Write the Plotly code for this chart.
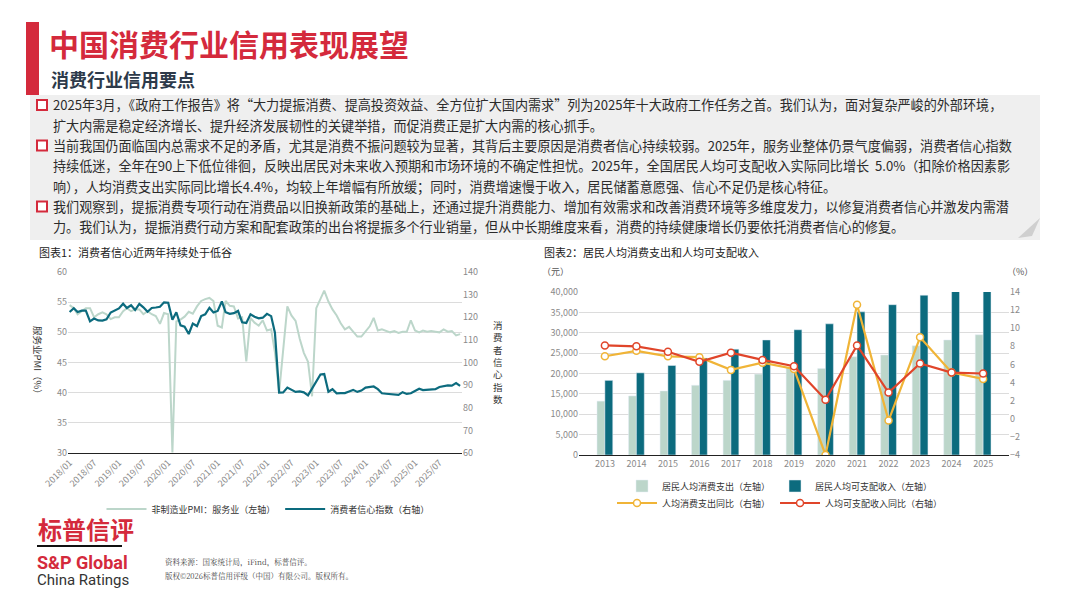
import plotly.graph_objects as go
import pandas as pd

# 图表1 数据（月度，2018/01 起）
pmi_services = [
    54.5, 54.0, 53.0, 53.5, 54.0, 54.0, 52.5, 53.0, 53.3, 53.0, 52.2, 52.5,
    52.5, 53.5, 54.0, 53.5, 53.8, 53.8, 53.0, 53.5, 53.0, 52.7, 51.4, 53.2,
    53.0, 30.1, 51.8, 52.1, 52.6, 53.4, 53.1, 54.3, 55.2, 55.5, 55.7, 55.2,
    51.1, 50.8, 55.2, 54.4, 54.3, 52.3, 52.5, 45.2, 52.4, 51.6, 51.1, 52.0,
    50.3, 50.5, 46.7, 40.0, 47.1, 54.3, 52.8, 51.9, 48.9, 46.6, 45.1, 39.4,
    54.0, 55.6, 56.9, 55.1, 53.8, 52.8, 51.5, 50.5, 50.9, 50.1, 49.3, 49.3,
    50.1, 51.0, 52.4, 50.3, 50.5, 50.2, 50.0, 50.2, 49.9, 50.1, 50.1, 52.0,
    50.3, 50.0, 50.3, 50.1, 50.2, 50.1, 50.0, 50.5, 50.1, 50.2, 49.5, 49.7,
]
consumer_confidence = [
    122.3, 124.0, 122.3, 122.9, 122.9, 118.2, 119.4, 118.6, 118.5, 119.1, 122.1, 123.0,
    123.9, 126.0, 124.1, 125.3, 123.2, 125.9, 124.4, 122.4, 124.1, 124.3, 124.6, 126.6,
    126.4, 118.9, 122.2, 116.4, 115.8, 112.6, 117.2, 116.1, 120.5, 121.3, 124.2, 122.1,
    122.8, 127.0, 122.2, 121.5, 121.8, 122.8, 117.8, 117.5, 121.3, 120.2, 119.5, 119.8,
    121.5, 120.5, 113.2, 86.7, 86.8, 88.9, 87.9, 87.0, 87.2, 86.8, 85.5, 88.3,
    91.2, 94.7, 94.9, 87.1, 88.2, 86.4, 86.5, 86.5, 87.2, 87.9, 87.0, 87.6,
    88.9, 89.1, 89.4, 88.2, 86.4, 86.2, 86.0, 85.8, 85.7, 86.9, 86.1, 86.4,
    87.5, 88.4, 87.8, 88.0, 88.3, 88.2, 89.2, 89.5, 89.9, 89.8, 90.9, 89.7,
]
months = pd.date_range("2018-01-01", periods=len(pmi_services), freq="MS")

# 图表2 数据（年度）
years = ["2013", "2014", "2015", "2016", "2017", "2018", "2019",
         "2020", "2021", "2022", "2023", "2024", "2025"]
expenditure = [13220, 14491, 15712, 17111, 18322, 19853, 21559,
               21210, 24100, 24538, 26796, 28227, 29500]
income = [18311, 20167, 21966, 23821, 25974, 28228, 30733,
          32189, 35128, 36883, 39218, 41314, 43377]
expenditure_yoy = [6.9, 7.5, 6.9, 6.8, 5.4, 6.2, 5.5, -4.0, 12.6, -0.2, 9.0, 5.1, 4.4]
income_yoy = [8.1, 8.0, 7.4, 6.3, 7.3, 6.5, 5.8, 2.1, 8.1, 2.9, 6.1, 5.1, 5.0]

W, H = 1067, 600
OFF = 8  # 页面 body 的默认边距
RED = "#d42a3c"
TEAL = "#0c6b7e"
SAGE = "#bcd6ca"
FONT = "Noto Sans CJK SC"


def px(x):
    return (x - OFF) / W


def py(y):
    return 1 - (y - OFF) / H


fig = go.Figure()

# 左图
fig.add_trace(go.Scatter(x=months, y=pmi_services, mode="lines", name="非制造业PMI：服务业（左轴）",
                         line=dict(color=SAGE, width=2), xaxis="x", yaxis="y", legend="legend"))
fig.add_trace(go.Scatter(x=months, y=consumer_confidence, mode="lines", name="消费者信心指数（右轴）",
                         line=dict(color=TEAL, width=2.2), xaxis="x", yaxis="y2", legend="legend"))

# 右图
fig.add_trace(go.Bar(x=years, y=expenditure, name="居民人均消费支出（左轴）", marker_color=SAGE,
                     xaxis="x2", yaxis="y3", legend="legend2", offsetgroup="a"))
fig.add_trace(go.Bar(x=years, y=income, name="居民人均可支配收入（左轴）", marker_color=TEAL,
                     xaxis="x2", yaxis="y3", legend="legend2", offsetgroup="b"))
fig.add_trace(go.Scatter(x=years, y=expenditure_yoy, mode="lines+markers", name="人均消费支出同比（右轴）",
                         line=dict(color="#f0b437", width=2.2),
                         marker=dict(color="white", size=7, line=dict(color="#f0b437", width=1.5)),
                         xaxis="x2", yaxis="y4", legend="legend3"))
fig.add_trace(go.Scatter(x=years, y=income_yoy, mode="lines+markers", name="人均可支配收入同比（右轴）",
                         line=dict(color="#e0452a", width=2.2),
                         marker=dict(color="white", size=7, line=dict(color="#e0452a", width=1.5)),
                         xaxis="x2", yaxis="y4", legend="legend3"))

tickfont = dict(size=9, color="#8a8a8a", family=FONT)
legfont = dict(size=9, color="#333", family=FONT)

fig.update_layout(
    width=W, height=H, margin=dict(l=0, r=0, t=0, b=0, autoexpand=False),
    paper_bgcolor="white", plot_bgcolor="white",
    font=dict(family=FONT),
    barmode="group", bargap=0.5, bargroupgap=0.0,
    xaxis=dict(domain=[px(68), px(462)], anchor="y", type="date", automargin=False,
               range=["2017-12-20", "2025-12-15"],
               tickvals=pd.date_range("2018-01-01", "2025-07-01", freq="6MS"),
               tickformat="%Y/%m", tickangle=-45, tickfont=tickfont,
               showgrid=False, showline=True, linecolor="#222", linewidth=1),
    yaxis=dict(domain=[py(453), py(272)], range=[30, 60], dtick=5, tickfont=tickfont,
               gridcolor="#dcdcdc", zeroline=False, automargin=False),
    yaxis2=dict(overlaying="y", side="right", anchor="x", range=[60, 140], dtick=10,
                tickfont=tickfont, showgrid=False, zeroline=False, automargin=False),
    xaxis2=dict(domain=[px(579), px(1009)], anchor="y3", tickfont=tickfont, automargin=False,
                showline=True, linecolor="#222", linewidth=1),
    yaxis3=dict(domain=[py(455), py(292)], anchor="x2", range=[0, 40000], dtick=5000,
                tickformat=",", tickfont=tickfont, gridcolor="#dcdcdc", zeroline=False, automargin=False),
    yaxis4=dict(overlaying="y3", side="right", anchor="x2", range=[-4, 14], dtick=2,
                tickfont=tickfont, showgrid=False, zeroline=False, automargin=False),
    legend=dict(orientation="h", x=px(268), xanchor="center", y=py(509), yanchor="middle",
                font=legfont, bgcolor="rgba(0,0,0,0)", itemwidth=40),
    legend2=dict(orientation="h", x=px(780), xanchor="center", y=py(486), yanchor="middle",
                 font=legfont, bgcolor="rgba(0,0,0,0)", itemwidth=30),
    legend3=dict(orientation="h", x=px(780), xanchor="center", y=py(503), yanchor="middle",
                 font=legfont, bgcolor="rgba(0,0,0,0)", itemwidth=40),
)

shapes = [
    dict(type="rect", xref="paper", yref="paper", x0=px(26), x1=px(39), y0=py(95), y1=py(22),
         fillcolor=RED, line_width=0),
    dict(type="rect", xref="paper", yref="paper", x0=px(30), x1=px(1040), y0=py(240), y1=py(95),
         fillcolor="#efefef", line_width=0, layer="below"),
    dict(type="path", xref="paper", yref="paper",
         path=f"M {px(1018)} {py(238)} L {px(1040)} {py(218)} L {px(1032)} {py(236)} Z",
         fillcolor="#cfcfcf", line_width=0),
    dict(type="line", xref="paper", yref="paper", x0=px(37), x1=px(122), y0=py(546), y1=py(546),
         line=dict(color="#111", width=2)),
]

anns = []


def txt(x, y, s, size, color="#222", bold=False, anchor="left", family=FONT, angle=0):
    anns.append(dict(x=px(x), y=py(y), xref="paper", yref="paper", text=f"<b>{s}</b>" if bold else s,
                     showarrow=False, xanchor=anchor, yanchor="middle", textangle=angle,
                     font=dict(size=size, color=color, family=family)))


txt(47, 43, "中国消费行业信用表现展望", 30, RED, bold=True)
txt(49, 79, "消费行业信用要点", 18, "#2d3a4a", bold=True)

body_lines = [
    (True, "2025年3月，《政府工作报告》将“大力提振消费、提高投资效益、全方位扩大国内需求”列为2025年十大政府工作任务之首。我们认为，面对复杂严峻的外部环境，"),
    (False, "扩大内需是稳定经济增长、提升经济发展韧性的关键举措，而促消费正是扩大内需的核心抓手。"),
    (True, "当前我国仍面临国内总需求不足的矛盾，尤其是消费不振问题较为显著，其背后主要原因是消费者信心持续较弱。2025年，服务业整体仍景气度偏弱，消费者信心指数"),
    (False, "持续低迷，全年在90上下低位徘徊，反映出居民对未来收入预期和市场环境的不确定性担忧。2025年，全国居民人均可支配收入实际同比增长  5.0%（扣除价格因素影"),
    (False, "响），人均消费支出实际同比增长4.4%，均较上年增幅有所放缓；同时，消费增速慢于收入，居民储蓄意愿强、信心不足仍是核心特征。"),
    (True, "我们观察到，提振消费专项行动在消费品以旧换新政策的基础上，还通过提升消费能力、增加有效需求和改善消费环境等多维度发力，以修复消费者信心并激发内需潜"),
    (False, "力。我们认为，提振消费行动方案和配套政策的出台将提振多个行业销量，但从中长期维度来看，消费的持续健康增长仍要依托消费者信心的修复。"),
]
for i, (bullet, line) in enumerate(body_lines):
    y = 105 + i * 20.3
    if bullet:
        shapes.append(dict(type="rect", xref="paper", yref="paper", x0=px(37), x1=px(47),
                           y0=py(y + 5), y1=py(y - 5), line=dict(color=RED, width=2), fillcolor="white"))
    txt(51, y, line, 13.1, "#2b2b2b")

txt(37, 252, "图表1：消费者信心近两年持续处于低谷", 11, "#222")
txt(542, 252, "图表2：居民人均消费支出和人均可支配收入", 11, "#222")
txt(38, 362, "服务业PMI（%）", 9.5, "#333", angle=90, anchor="center")
txt(498, 362, "<br>".join("消费者信心指数"), 9.5, "#333", anchor="center")
txt(555, 271, "（元）", 9, "#555", anchor="center")
txt(1020, 272, "（%）", 9, "#555", anchor="center")

txt(36, 528, "标普信评", 24, RED, bold=True)
txt(35, 562, "S&P Global", 18, RED, bold=True, family="Roboto")
txt(35, 580, "China Ratings", 15, "#333", family="Roboto")
txt(163, 562, "资料来源：国家统计局，iFind，标普信评。", 7.5, "#444", family="Noto Serif CJK SC, serif")
txt(163, 575, "版权©2026标普信用评级（中国）有限公司。版权所有。", 7.5, "#444", family="Noto Serif CJK SC, serif")

fig.update_layout(shapes=shapes, annotations=anns)
fig.write_html("out.html")
